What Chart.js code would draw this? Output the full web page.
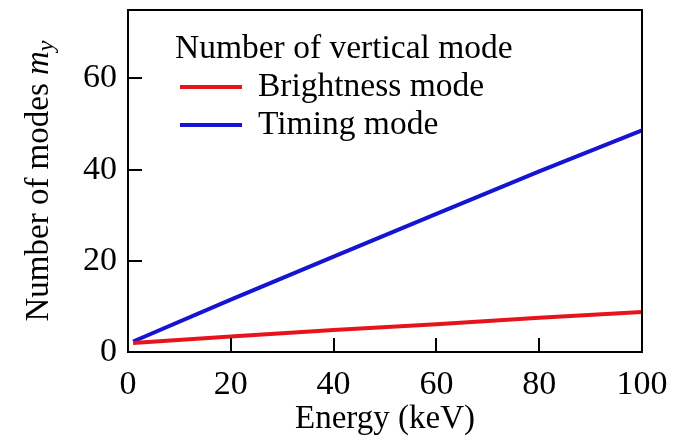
<!DOCTYPE html>
<html>
<head>
<meta charset="utf-8">
<script src="https://cdn.jsdelivr.net/npm/chart.js@4.4.1/dist/chart.umd.min.js"></script>
<style>
    html, body { margin: 0; padding: 0; background: #fff; }
    #wrap { width: 681px; height: 436px; }
</style>
</head>
<body>
<div id="wrap"><canvas id="chart" width="681" height="436"></canvas></div>
<script>
// energy in keV
const energy = [1, 20, 40, 60, 80, 100];
const brightnessModes = [2.0, 3.4, 4.8, 6.1, 7.5, 8.8];
const timingModes = [2.3, 11.5, 20.9, 30.3, 39.6, 48.6];
const xTicks = [0, 20, 40, 60, 80, 100];
const yTicks = [0, 20, 40, 60];

const serif = '"Liberation Serif", "Times New Roman", serif';

// frame + inward tick marks
const framePlugin = {
    id: 'frame',
    afterDatasetsDraw(chart) {
        const { ctx, chartArea: a, scales } = chart;
        ctx.save();
        ctx.strokeStyle = '#000';
        ctx.lineWidth = 2;
        ctx.strokeRect(a.left, a.top, a.right - a.left, a.bottom - a.top);
        ctx.beginPath();
        xTicks.forEach(v => {
            const px = Math.round(scales.x.getPixelForValue(v));
            ctx.moveTo(px, a.bottom);
            ctx.lineTo(px, a.bottom - 14);
        });
        yTicks.forEach(v => {
            const py = Math.round(scales.y.getPixelForValue(v));
            ctx.moveTo(a.left, py);
            ctx.lineTo(a.left + 14, py);
        });
        ctx.stroke();
        ctx.restore();
    }
};

// legend with title, drawn inside the plot
const legendPlugin = {
    id: 'boxLegend',
    afterDraw(chart) {
        const ctx = chart.ctx;
        ctx.save();
        ctx.fillStyle = '#000';
        ctx.textBaseline = 'middle';
        ctx.font = '33.5px ' + serif;
        ctx.fillText('Number of vertical mode', 175, 49);
        chart.data.datasets.forEach((ds, i) => {
            const y = 87 + i * 38;
            ctx.strokeStyle = ds.borderColor;
            ctx.lineWidth = 4;
            ctx.beginPath();
            ctx.moveTo(180, y);
            ctx.lineTo(242, y);
            ctx.stroke();
            ctx.fillText(ds.label, 258, y);
        });
        ctx.restore();
    }
};

// y axis title with italic m and subscript y
const yTitlePlugin = {
    id: 'yTitle',
    afterDraw(chart) {
        const ctx = chart.ctx;
        ctx.save();
        ctx.translate(39, 181);
        ctx.rotate(-Math.PI / 2);
        ctx.fillStyle = '#000';
        ctx.textBaseline = 'middle';
        const part1 = 'Number of modes ';
        ctx.font = '33px ' + serif;
        const w1 = ctx.measureText(part1).width;
        ctx.font = 'italic 33px ' + serif;
        const w2 = ctx.measureText('m').width;
        ctx.font = 'italic 24px ' + serif;
        const w3 = ctx.measureText('y').width;
        let x = -(w1 + w2 + w3) / 2;
        ctx.font = '33px ' + serif;
        ctx.fillText(part1, x, 0);
        x += w1;
        ctx.font = 'italic 33px ' + serif;
        ctx.fillText('m', x, 0);
        x += w2;
        ctx.font = 'italic 24px ' + serif;
        ctx.fillText('y', x, 8);
        ctx.restore();
    }
};

new Chart(document.getElementById('chart').getContext('2d'), {
    type: 'line',
    data: {
        datasets: [{
            label: 'Brightness mode',
            data: energy.map((e, i) => ({ x: e, y: brightnessModes[i] })),
            borderColor: '#e8141c',
            borderWidth: 4,
            pointRadius: 0,
            tension: 0
        }, {
            label: 'Timing mode',
            data: energy.map((e, i) => ({ x: e, y: timingModes[i] })),
            borderColor: '#1414d2',
            borderWidth: 4,
            pointRadius: 0,
            tension: 0
        }]
    },
    options: {
        responsive: false,
        animation: false,
        layout: { padding: { top: 10, right: 39, left: 0, bottom: 0 } },
        plugins: {
            legend: { display: false },
            tooltip: { enabled: false }
        },
        scales: {
            x: {
                type: 'linear',
                min: 0,
                max: 100,
                afterBuildTicks: s => { s.ticks = xTicks.map(v => ({ value: v })); },
                afterFit: s => { s.height = 84; s.paddingLeft = 0; s.paddingRight = 0; },
                grid: { display: false, drawTicks: false },
                border: { display: false },
                ticks: { color: '#000', font: { family: serif, size: 34, lineHeight: 1 }, padding: 16, maxRotation: 0 },
                title: {
                    display: true,
                    text: 'Energy (keV)',
                    color: '#000',
                    font: { family: serif, size: 33, lineHeight: 1 },
                    padding: { top: 1, bottom: 0 }
                }
            },
            y: {
                min: 0,
                max: 75,
                afterBuildTicks: s => { s.ticks = yTicks.map(v => ({ value: v })); },
                afterFit: s => { s.width = 128; s.paddingTop = 0; s.paddingBottom = 0; },
                grid: { display: false, drawTicks: false },
                border: { display: false },
                ticks: { color: '#000', font: { family: serif, size: 34 }, padding: 11 }
            }
        }
    },
    plugins: [framePlugin, legendPlugin, yTitlePlugin]
});
</script>
</body>
</html>
